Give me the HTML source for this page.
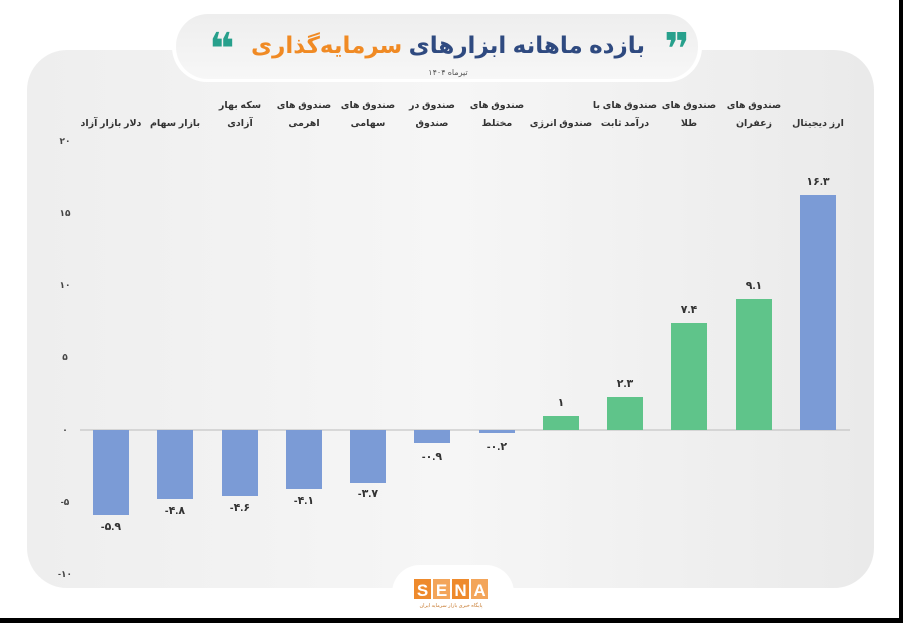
<!DOCTYPE html>
<html><head><meta charset="utf-8"><style>
body{margin:0;width:903px;height:623px;overflow:hidden;background:#fff;}
svg{display:block}
text{font-family:"Liberation Sans","DejaVu Sans","Noto Sans CJK SC",sans-serif;}
</style></head><body>
<svg width="903" height="623" viewBox="0 0 903 623" xmlns="http://www.w3.org/2000/svg">
<defs>
<linearGradient id="cg" x1="0" y1="0" x2="1" y2="0">
<stop offset="0" stop-color="#eeeeee"/><stop offset="0.5" stop-color="#f6f6f6"/><stop offset="1" stop-color="#eaeaea"/>
</linearGradient>
<linearGradient id="pg" x1="0" y1="0" x2="0" y2="1">
<stop offset="0" stop-color="#eeeeee"/><stop offset="1" stop-color="#f7f7f7"/>
</linearGradient>
</defs>
<rect width="903" height="623" fill="#fff"/>
<rect x="27" y="50" width="847" height="538" rx="40" fill="url(#cg)"/>
<rect x="172" y="11" width="530" height="71" rx="35" fill="#fff"/>
<rect x="176" y="14" width="522" height="65" rx="32" fill="url(#pg)"/>
<text x="448" y="53" font-size="23" font-weight="bold" text-anchor="middle" direction="rtl"><tspan fill="#2f4a80">بازده ماهانه ابزارهای </tspan><tspan fill="#f08a24">سرمایه‌گذاری</tspan></text>
<text x="677" y="64" font-size="44" font-weight="bold" fill="#27a08c" text-anchor="middle">❞</text>
<text x="222" y="64" font-size="44" font-weight="bold" fill="#27a08c" text-anchor="middle">❝</text>
<text x="448" y="75" font-size="8" fill="#555" text-anchor="middle" direction="rtl">تیرماه ۱۴۰۴</text>
<g font-size="9" fill="#444" text-anchor="middle" font-weight="bold">
<text x="65" y="144">۲۰</text><text x="65" y="216">۱۵</text><text x="65" y="288">۱۰</text>
<text x="65" y="360">۵</text><text x="65" y="433">۰</text><text x="65" y="505">-۵</text><text x="65" y="577">-۱۰</text>
</g>
<line x1="80" y1="430" x2="850" y2="430" stroke="#bbb" stroke-width="1"/>
<g fill="#7b9bd6">
<rect x="93" y="430" width="36" height="85"/>
<rect x="157" y="430" width="36" height="69"/>
<rect x="222" y="430" width="36" height="66"/>
<rect x="286" y="430" width="36" height="59"/>
<rect x="350" y="430" width="36" height="53"/>
<rect x="414" y="430" width="36" height="13"/>
<rect x="479" y="430" width="36" height="3"/>
<rect x="800" y="195" width="36" height="235"/>
</g>
<g fill="#5fc48a">
<rect x="543" y="416" width="36" height="14"/>
<rect x="607" y="397" width="36" height="33"/>
<rect x="671" y="323" width="36" height="107"/>
<rect x="736" y="299" width="36" height="131"/>
</g>
<g font-size="11" font-weight="bold" fill="#333" text-anchor="middle">
<text x="111" y="530">-۵.۹</text><text x="175" y="514">-۴.۸</text><text x="240" y="511">-۴.۶</text>
<text x="304" y="504">-۴.۱</text><text x="368" y="497">-۳.۷</text><text x="432" y="460">-۰.۹</text>
<text x="497" y="450">-۰.۲</text><text x="561" y="406">۱</text><text x="625" y="387">۲.۳</text>
<text x="689" y="313">۷.۴</text><text x="754" y="289">۹.۱</text><text x="818" y="185">۱۶.۳</text>
</g>
<g font-size="9.5" font-weight="bold" fill="#333" text-anchor="middle" direction="rtl">
<text x="111" y="126">دلار بازار آزاد</text>
<text x="175" y="126">بازار سهام</text>
<text x="240" y="108">سکه بهار</text><text x="240" y="126">آزادی</text>
<text x="304" y="108">صندوق های</text><text x="304" y="126">اهرمی</text>
<text x="368" y="108">صندوق های</text><text x="368" y="126">سهامی</text>
<text x="432" y="108">صندوق در</text><text x="432" y="126">صندوق</text>
<text x="497" y="108">صندوق های</text><text x="497" y="126">مختلط</text>
<text x="561" y="126">صندوق انرژی</text>
<text x="625" y="108">صندوق های با</text><text x="625" y="126">درآمد ثابت</text>
<text x="689" y="108">صندوق های</text><text x="689" y="126">طلا</text>
<text x="754" y="108">صندوق های</text><text x="754" y="126">زعفران</text>
<text x="818" y="126">ارز دیجیتال</text>
</g>
<rect x="392" y="565" width="122" height="60" rx="28" fill="#fff"/>
<g font-size="17" font-weight="bold" fill="#fff" text-anchor="middle">
<rect x="414" y="579" width="17" height="20" fill="#ee8a2c"/><text x="422.5" y="596">S</text>
<rect x="433" y="579" width="17" height="20" fill="#f3a55a"/><text x="441.5" y="596">E</text>
<rect x="452" y="579" width="17" height="20" fill="#ee8a2c"/><text x="460.5" y="596">N</text>
<rect x="471" y="579" width="17" height="20" fill="#f3a55a"/><text x="479.5" y="596">A</text>
</g>
<text x="451" y="607" font-size="5" fill="#c77a30" text-anchor="middle" direction="rtl">پایگاه خبری بازار سرمایه ایران</text>
<rect x="0" y="618" width="903" height="5" fill="#000"/>
<rect x="899" y="0" width="4" height="623" fill="#000"/>
</svg>
</body></html>
